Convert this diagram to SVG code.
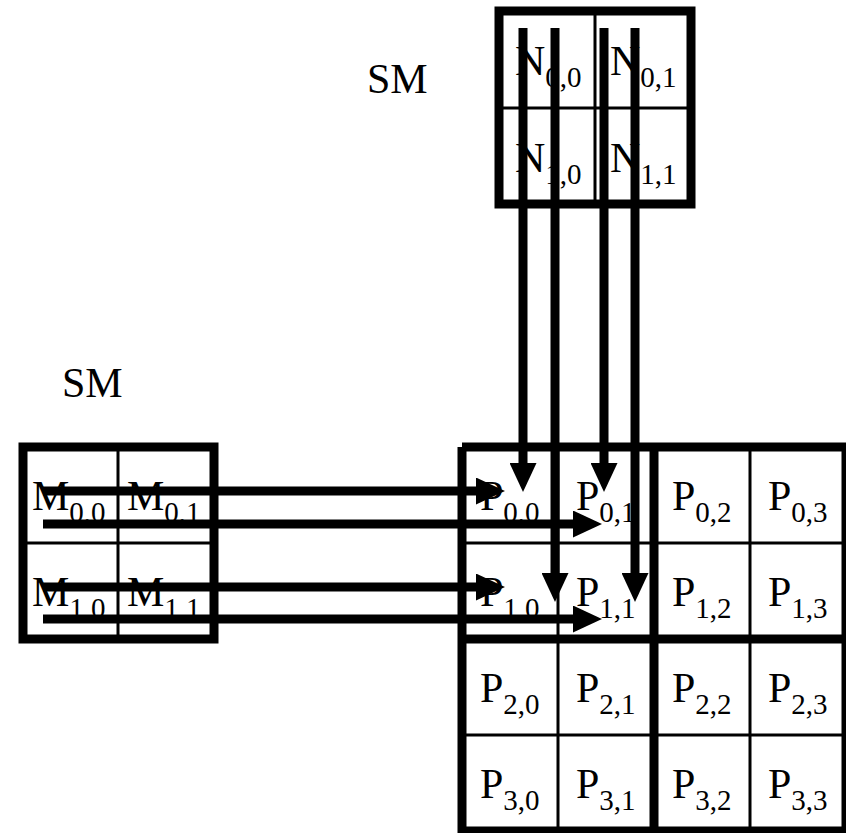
<svg xmlns="http://www.w3.org/2000/svg" width="846" height="833" viewBox="0 0 846 833">
<style>
text{font-family:"Liberation Serif","Times New Roman",serif;fill:#000;font-size:42px}
.sub{font-size:29px}
.thick{fill:none;stroke:#000;stroke-width:9}
.thin{fill:none;stroke:#000;stroke-width:3}
.arr{fill:none;stroke:#000;stroke-width:9;marker-end:url(#ah)}
</style>
<defs>
<marker id="ah" viewBox="0 0 29 27" refX="0" refY="13.5" markerWidth="29" markerHeight="27" markerUnits="userSpaceOnUse" orient="auto">
<path d="M0,0 L29,13.5 L0,27 Z" fill="#000"/>
</marker>
</defs>
<rect width="846" height="833" fill="#fff"/>

<g id="label-sm-top"><text x="367" y="93">SM</text></g>
<g id="label-sm-left"><text x="62" y="397">SM</text></g>

<g id="N">
<path class="thin" d="M595,11 V204 M499,108 H691"/>
<rect class="thick" x="499" y="11" width="192" height="193"/>
<g id="N00"><text x="515" y="75">N<tspan class="sub" dy="12">0,0</tspan></text></g>
<g id="N01"><text x="610" y="75">N<tspan class="sub" dy="12">0,1</tspan></text></g>
<g id="N10"><text x="515" y="172">N<tspan class="sub" dy="12">1,0</tspan></text></g>
<g id="N11"><text x="610" y="172">N<tspan class="sub" dy="12">1,1</tspan></text></g>
</g>

<g id="M">
<path class="thin" d="M118,447 V639 M23,543 H214"/>
<rect class="thick" x="23" y="447" width="191" height="192"/>
<g id="M00"><text x="32" y="510">M<tspan class="sub" dy="12">0,0</tspan></text></g>
<g id="M01"><text x="127" y="510">M<tspan class="sub" dy="12">0,1</tspan></text></g>
<g id="M10"><text x="32" y="606">M<tspan class="sub" dy="12">1,0</tspan></text></g>
<g id="M11"><text x="127" y="606">M<tspan class="sub" dy="12">1,1</tspan></text></g>
</g>

<g id="P">
<path class="thin" d="M558,447 V831 M750,447 V831 M462,543 H846 M462,735 H846"/>
<path class="thick" d="M462,447 H846 M462,639 H846 M462,831 H846 M462,447 V833 M654,447 V833 M846,447 V833"/>
<g id="P00"><text x="480" y="510">P<tspan class="sub" dy="12">0,0</tspan></text></g>
<g id="P01"><text x="576" y="510">P<tspan class="sub" dy="12">0,1</tspan></text></g>
<g id="P02"><text x="672" y="510">P<tspan class="sub" dy="12">0,2</tspan></text></g>
<g id="P03"><text x="768" y="510">P<tspan class="sub" dy="12">0,3</tspan></text></g>
<g id="P10"><text x="480" y="606">P<tspan class="sub" dy="12">1,0</tspan></text></g>
<g id="P11"><text x="576" y="606">P<tspan class="sub" dy="12">1,1</tspan></text></g>
<g id="P12"><text x="672" y="606">P<tspan class="sub" dy="12">1,2</tspan></text></g>
<g id="P13"><text x="768" y="606">P<tspan class="sub" dy="12">1,3</tspan></text></g>
<g id="P20"><text x="480" y="702">P<tspan class="sub" dy="12">2,0</tspan></text></g>
<g id="P21"><text x="576" y="702">P<tspan class="sub" dy="12">2,1</tspan></text></g>
<g id="P22"><text x="672" y="702">P<tspan class="sub" dy="12">2,2</tspan></text></g>
<g id="P23"><text x="768" y="702">P<tspan class="sub" dy="12">2,3</tspan></text></g>
<g id="P30"><text x="480" y="798">P<tspan class="sub" dy="12">3,0</tspan></text></g>
<g id="P31"><text x="576" y="798">P<tspan class="sub" dy="12">3,1</tspan></text></g>
<g id="P32"><text x="672" y="798">P<tspan class="sub" dy="12">3,2</tspan></text></g>
<g id="P33"><text x="768" y="798">P<tspan class="sub" dy="12">3,3</tspan></text></g>
</g>

<g id="connectors">
<path class="arr" d="M523,28 V463"/>
<path class="arr" d="M555,28 V573"/>
<path class="arr" d="M604,28 V463"/>
<path class="arr" d="M635,28 V573"/>
<path class="arr" d="M43,491 H476"/>
<path class="arr" d="M43,524 H573"/>
<path class="arr" d="M43,587 H476"/>
<path class="arr" d="M43,619 H573"/>
</g>
</svg>
